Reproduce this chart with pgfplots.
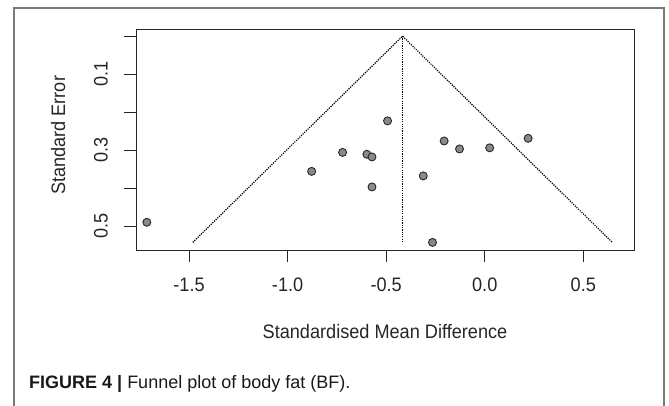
\documentclass[border=0pt]{standalone}
\usepackage{fontspec}
\setmainfont{Liberation Sans}
\newfontfamily\axisfont{Liberation Sans}[FakeStretch=0.93]
\usepackage{pgfplots}
\pgfplotsset{compat=1.18}

\definecolor{ink}{HTML}{262626}
\definecolor{pointfill}{HTML}{8A8A8A}
\definecolor{framegray}{HTML}{7A7A7A}
\newcommand{\axfont}{\axisfont\fontsize{19.5bp}{23bp}\selectfont}

\begin{document}
\begin{tikzpicture}
\useasboundingbox (0,0) rectangle (669bp,406bp);
% outer figure frame, open at the bottom
\draw[framegray, line width=1.1bp] (14bp,0) -- (14bp,398bp) -- (664bp,398bp) -- (664bp,0);

\begin{axis}[
    at={(136bp,156bp)}, anchor=south west,
    scale only axis, width=498bp, height=220.5bp,
    xmin=-1.769, xmax=0.757,
    ymin=-0.0175, ymax=0.563, y dir=reverse,
    axis line style={black!85, line width=1bp},
    tick style={black!85, line width=1bp},
    tick align=outside, major tick length=12bp,
    xtick={-1.5,-1,-0.5,0,0.5},
    xticklabels={-1.5,-1.0,-0.5,0.0,0.5},
    ytick={0,0.1,0.2,0.3,0.4,0.5},
    yticklabels={{},0.1,{},0.3,{},0.5},
    xtick pos=bottom, ytick pos=left,
    xticklabel style={font=\axfont, text=ink, anchor=north, inner sep=0pt, yshift=-16bp},
    yticklabel style={font=\axfont, text=ink, xshift=-16bp, rotate=90, anchor=south, inner sep=0pt},
    xlabel={Standardised Mean Difference},
    ylabel={Standard Error},
    every axis x label/.style={at={(axis description cs:0.5,0)}, yshift=-88bp, anchor=base, font=\axfont, text=ink},
    every axis y label/.style={at={(axis description cs:0,0.52)}, xshift=-71bp, rotate=90, anchor=base, font=\axfont, text=ink},
    clip=false,
]
% funnel
\addplot[black, line width=1.2bp, dash pattern=on 1.2bp off 1.1bp] coordinates {
    (-1.481,0.543) (-0.417,0) (0.647,0.543)
};
\addplot[black, line width=1.2bp, dash pattern=on 1.2bp off 1.1bp] coordinates {
    (-0.417,0) (-0.417,0.543)
};
% studies
\addplot[only marks, mark=*, mark size=4bp,
    mark options={fill=pointfill, draw=ink, line width=0.9bp}] coordinates {
    (-0.493,0.223) (-0.721,0.306) (-0.598,0.311) (-0.572,0.318)
    (-0.572,0.397) (-0.206,0.276) (-0.128,0.297) (0.025,0.294)
    (0.220,0.269) (-0.312,0.368) (-0.265,0.543) (-0.878,0.356)
    (-1.714,0.490)
};
\end{axis}

\node[anchor=base west, inner sep=0pt, text=black!90] at (29bp,17.7bp)
    {\fontsize{18bp}{21bp}\selectfont\textbf{FIGURE 4 |} Funnel plot of body fat (BF).};
\end{tikzpicture}
\end{document}
